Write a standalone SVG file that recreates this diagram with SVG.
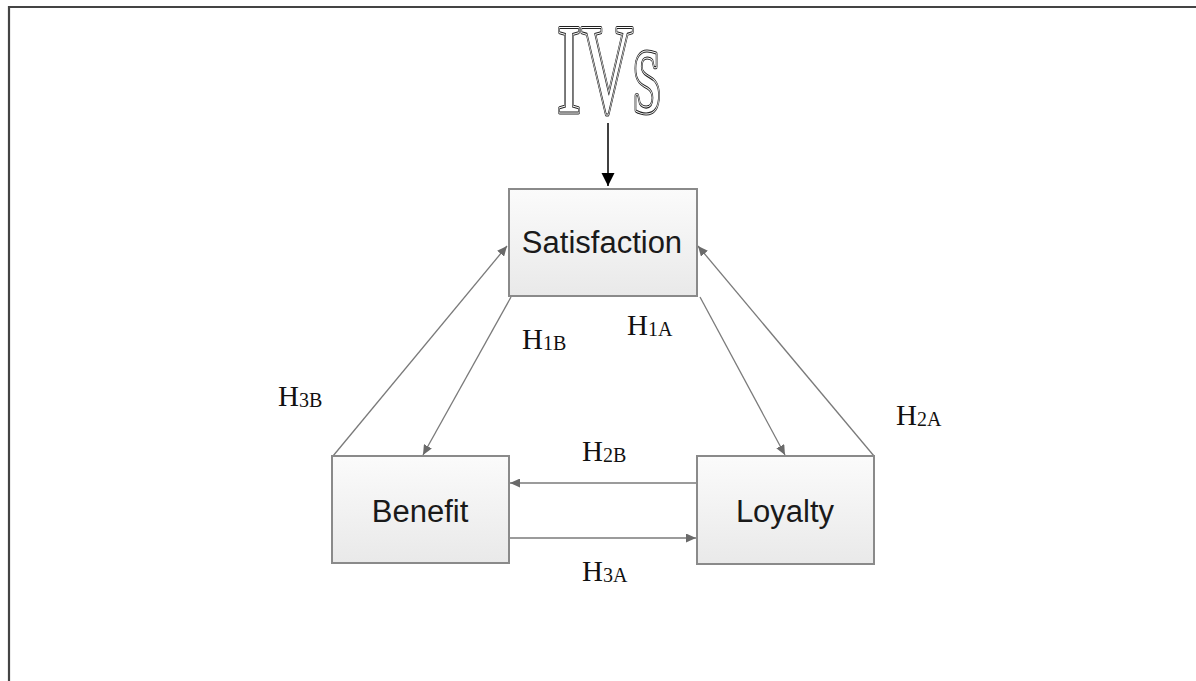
<svg xmlns="http://www.w3.org/2000/svg" width="1196" height="681" viewBox="0 0 1196 681">
  <style>
    .box { fill: url(#boxGrad); stroke: #8a8a8a; stroke-width: 2; }
    .lbl { font-family: "Liberation Sans", Arial, sans-serif; font-size: 31px; fill: #1a1a1a; text-anchor: middle; }
    .hyp { font-family: "Liberation Serif", "Times New Roman", serif; font-size: 29px; fill: #111; }
    .sub { font-size: 20px; }
    .conn { stroke: #7a7a7a; stroke-width: 1.3; fill: none; marker-end: url(#arrGray); }
    .ivs { font-family: "Liberation Serif", "Times New Roman", serif; font-size: 127px; }
  </style>
  <defs>
    <linearGradient id="boxGrad" x1="0" y1="0" x2="0" y2="1">
      <stop offset="0" stop-color="#fbfbfb"/>
      <stop offset="1" stop-color="#e9e9e9"/>
    </linearGradient>
    <marker id="arrGray" markerUnits="userSpaceOnUse" markerWidth="11" markerHeight="9" refX="10" refY="4.5" orient="auto">
      <path d="M0,0 L10,4.5 L0,9 z" fill="#6a6a6a"/>
    </marker>
    <marker id="arrBlack" markerUnits="userSpaceOnUse" markerWidth="14" markerHeight="14" refX="13" refY="6.5" orient="auto">
      <path d="M0,0 L13,6.5 L0,13 z" fill="#000"/>
    </marker>
  </defs>

  <rect x="0" y="0" width="1196" height="681" fill="#ffffff"/>
  <path d="M9,681 L9,7 L1196,7" fill="none" stroke="#444" stroke-width="2.2"/>

  <g id="ivs">
    <text class="ivs" x="557" y="112" textLength="104" lengthAdjust="spacingAndGlyphs" fill="#000" stroke="#222" stroke-width="5" stroke-linejoin="round">IVs</text>
    <text class="ivs" x="557" y="112" textLength="104" lengthAdjust="spacingAndGlyphs" fill="#fff" stroke="#fff" stroke-width="3" stroke-linejoin="round">IVs</text>
    <text class="ivs" x="557" y="112" textLength="104" lengthAdjust="spacingAndGlyphs" fill="#fff" stroke="#222" stroke-width="1.1" stroke-linejoin="round">IVs</text>
  </g>

  <g id="connectors">
    <line x1="608" y1="123" x2="608" y2="186" stroke="#000" stroke-width="1.5" marker-end="url(#arrBlack)"/>
    <line class="conn" x1="333" y1="456" x2="507" y2="246"/>
    <line class="conn" x1="874" y1="456" x2="698" y2="246"/>
    <line class="conn" x1="511" y1="297" x2="423" y2="455"/>
    <line class="conn" x1="700" y1="297" x2="785" y2="455"/>
    <line class="conn" x1="696" y1="483" x2="510" y2="483"/>
    <line class="conn" x1="510" y1="538" x2="696" y2="538"/>
  </g>

  <g id="satisfaction">
    <rect class="box" x="509" y="189" width="188" height="107"/>
    <text class="lbl" x="602" y="253">Satisfaction</text>
  </g>
  <g id="benefit">
    <rect class="box" x="332" y="456" width="177" height="107"/>
    <text class="lbl" x="420" y="522">Benefit</text>
  </g>
  <g id="loyalty">
    <rect class="box" x="697" y="456" width="177" height="108"/>
    <text class="lbl" x="785" y="522">Loyalty</text>
  </g>

  <g id="labels">
    <text class="hyp" x="278" y="406">H<tspan class="sub" dy="1">3B</tspan></text>
    <text class="hyp" x="522" y="349">H<tspan class="sub" dy="1">1B</tspan></text>
    <text class="hyp" x="627" y="335">H<tspan class="sub" dy="1">1A</tspan></text>
    <text class="hyp" x="896" y="425">H<tspan class="sub" dy="1">2A</tspan></text>
    <text class="hyp" x="582" y="461">H<tspan class="sub" dy="1">2B</tspan></text>
    <text class="hyp" x="582" y="581">H<tspan class="sub" dy="1">3A</tspan></text>
  </g>
</svg>
